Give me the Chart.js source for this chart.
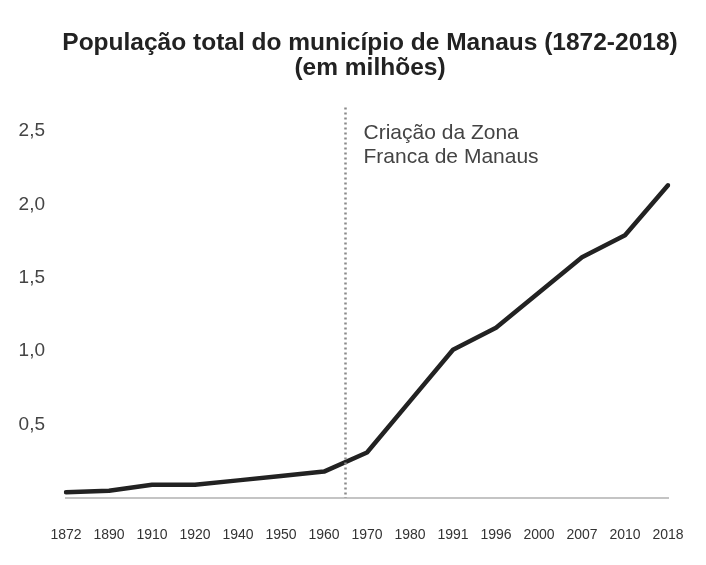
<!DOCTYPE html>
<html>
<head>
<meta charset="utf-8">
<script src="https://cdn.jsdelivr.net/npm/chart.js@4"></script>
<style>
  html, body { margin: 0; padding: 0; background: #fff; }
  #wrap { position: relative; width: 706px; height: 565px; overflow: hidden; }
  #wrap canvas { position: absolute; left: 0; top: 0; }
  #title {
    position: absolute; top: 29px; left: 0; width: 740px;
    text-align: center; font: bold 24.5px "Liberation Sans", Arial, sans-serif;
    line-height: 25px; color: #222;
  }
</style>
</head>
<body>
<div id="wrap">
  <canvas id="myChart" width="706" height="565"></canvas>
  <div id="title">População total do município de Manaus (1872-2018)<br>(em milhões)</div>
</div>
<script>
// anos do recenseamento / estimativa
const years = ['1872', '1890', '1910', '1920', '1940', '1950', '1960', '1970', '1980', '1991', '1996', '2000', '2007', '2010', '2018'];
// população em milhões
const population = [0.04, 0.05, 0.09, 0.09, 0.12, 0.15, 0.18, 0.31, 0.66, 1.01, 1.16, 1.40, 1.64, 1.79, 2.13];
const yTicks = [0.5, 1.0, 1.5, 2.0, 2.5];

// Zona Franca (1967) fica entre 1960 e 1970
const markerIndex = 6.5;
const markerTop = 2.66;
const markerText = ['Criação da Zona', 'Franca de Manaus'];

const markerPlugin = {
    id: 'marker',
    afterDatasetsDraw(chart) {
        const ctx = chart.ctx;
        const x = chart.scales.x.getPixelForValue(markerIndex);
        const yTop = chart.scales.y.getPixelForValue(markerTop);
        const yBottom = chart.scales.y.getPixelForValue(0);
        ctx.save();
        ctx.strokeStyle = '#8a8a8a';
        ctx.lineWidth = 2.5;
        ctx.setLineDash([2, 3]);
        ctx.beginPath();
        ctx.moveTo(x, yTop);
        ctx.lineTo(x, yBottom);
        ctx.stroke();

        ctx.fillStyle = '#444';
        ctx.font = '21px "Liberation Sans", Arial, sans-serif';
        ctx.textBaseline = 'middle';
        ctx.fillText(markerText[0], x + 18, yTop + 26);
        ctx.fillText(markerText[1], x + 18, yTop + 50);
        ctx.restore();
    }
};

const ctx = document.getElementById('myChart').getContext('2d');
new Chart(ctx, {
    type: 'line',
    data: {
        labels: years,
        datasets: [{
            data: population,
            borderColor: '#222',
            borderWidth: 4.5,
            borderJoinStyle: 'round',
            borderCapStyle: 'round',
            pointRadius: 0,
            tension: 0,
            fill: false
        }]
    },
    options: {
        responsive: false,
        animation: false,
        layout: {
            padding: { top: 131, left: 16, right: 38, bottom: 21 }
        },
        plugins: {
            legend: { display: false },
            tooltip: { enabled: false }
        },
        scales: {
            x: {
                offset: false,
                grid: { display: false, drawTicks: false },
                border: { color: '#c4c4c4', width: 2 },
                afterFit(scale) {
                    scale.height = 46;
                    scale.paddingLeft = 0;
                    scale.paddingRight = 0;
                },
                ticks: {
                    color: '#333',
                    font: { family: '"Liberation Sans", Arial', size: 14 },
                    padding: 29,
                    maxRotation: 0,
                    autoSkip: false
                }
            },
            y: {
                min: 0,
                max: 2.5,
                grid: { display: false, drawTicks: false },
                border: { display: false },
                afterBuildTicks(scale) {
                    scale.ticks = yTicks.map(v => ({ value: v }));
                },
                afterFit(scale) { scale.width = 50; },
                ticks: {
                    color: '#444',
                    font: { family: '"Liberation Sans", Arial', size: 19 },
                    padding: 21,
                    callback: v => v.toFixed(1).replace('.', ',')
                }
            }
        }
    },
    plugins: [markerPlugin]
});
</script>
</body>
</html>
